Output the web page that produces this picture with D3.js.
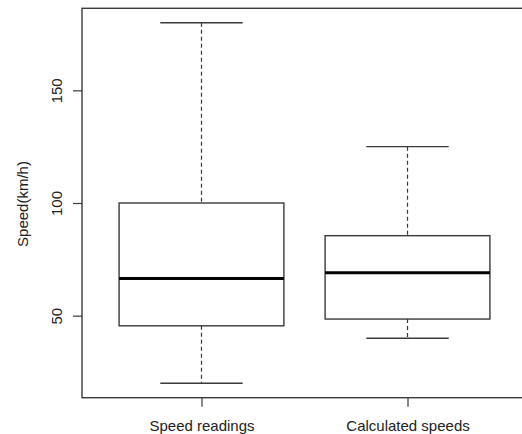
<!DOCTYPE html>
<html>
<head>
<meta charset="utf-8">
<script src="https://cdn.jsdelivr.net/npm/d3@7"></script>
<style>
  body { margin: 0; background: #fff; }
  svg { display: block; font-family: "Liberation Sans", Arial, sans-serif; }
</style>
</head>
<body>
<svg></svg>
<script>
let categories = ["Speed readings", "Calculated speeds"]
let lowWhisker = [20, 40]
let q1 = [45.5, 48.5]
let medians = [66.5, 69]
let q3 = [100, 85.5]
let highWhisker = [180, 125]
let yTicks = [50, 100, 150]

let width = 522
let height = 434
let lineColor = "#3a3a3a"

let svg = d3.select("svg")
  .attr("width", width)
  .attr("height", height)

// R style: positions 1..n, limits padded by 4%
let xScale = d3.scaleLinear()
  .domain([0.42, categories.length + 0.58])
  .range([82, 527])

let yScale = d3.scaleLinear()
  .domain([13.6, 186.4])
  .range([397.7, 8.3])

let boxes = categories.map((c, i) => {
  return {
    name: c,
    pos: i + 1,
    lo: lowWhisker[i],
    q1: q1[i],
    med: medians[i],
    q3: q3[i],
    hi: highWhisker[i]
  }
})

let boxHalf = 0.4
let capHalf = 0.2

let g = svg.selectAll(".box")
  .data(boxes)
  .enter()
  .append("g")
  .attr("class", "box")

// whiskers
g.append("line")
  .attr("x1", d => xScale(d.pos))
  .attr("x2", d => xScale(d.pos))
  .attr("y1", d => yScale(d.hi))
  .attr("y2", d => yScale(d.q3))
  .attr("stroke", lineColor)
  .attr("stroke-width", 1.2)
  .attr("stroke-dasharray", "4,3")

g.append("line")
  .attr("x1", d => xScale(d.pos))
  .attr("x2", d => xScale(d.pos))
  .attr("y1", d => yScale(d.q1))
  .attr("y2", d => yScale(d.lo))
  .attr("stroke", lineColor)
  .attr("stroke-width", 1.2)
  .attr("stroke-dasharray", "4,3")

// caps
g.append("line")
  .attr("x1", d => xScale(d.pos - capHalf))
  .attr("x2", d => xScale(d.pos + capHalf))
  .attr("y1", d => yScale(d.hi))
  .attr("y2", d => yScale(d.hi))
  .attr("stroke", lineColor)
  .attr("stroke-width", 1.4)

g.append("line")
  .attr("x1", d => xScale(d.pos - capHalf))
  .attr("x2", d => xScale(d.pos + capHalf))
  .attr("y1", d => yScale(d.lo))
  .attr("y2", d => yScale(d.lo))
  .attr("stroke", lineColor)
  .attr("stroke-width", 1.4)

// box
g.append("rect")
  .attr("x", d => xScale(d.pos - boxHalf))
  .attr("width", d => xScale(d.pos + boxHalf) - xScale(d.pos - boxHalf))
  .attr("y", d => yScale(d.q3))
  .attr("height", d => yScale(d.q1) - yScale(d.q3))
  .attr("fill", "none")
  .attr("stroke", lineColor)
  .attr("stroke-width", 1.4)

// median
g.append("line")
  .attr("x1", d => xScale(d.pos - boxHalf))
  .attr("x2", d => xScale(d.pos + boxHalf))
  .attr("y1", d => yScale(d.med))
  .attr("y2", d => yScale(d.med))
  .attr("stroke", "#000")
  .attr("stroke-width", 3)

// frame
svg.append("rect")
  .attr("x", xScale.range()[0])
  .attr("y", yScale.range()[1])
  .attr("width", xScale.range()[1] - xScale.range()[0])
  .attr("height", yScale.range()[0] - yScale.range()[1])
  .attr("fill", "none")
  .attr("stroke", lineColor)
  .attr("stroke-width", 1.4)

// y axis
let yAxis = d3.axisLeft(yScale).tickValues(yTicks).tickSize(9)
let yg = svg.append("g")
  .attr("transform", "translate(" + xScale.range()[0] + ",0)")
  .call(yAxis)
yg.select(".domain").remove()
yg.selectAll(".tick line").attr("stroke", lineColor).attr("stroke-width", 1.2)
yg.selectAll(".tick text")
  .attr("transform", "rotate(-90)")
  .attr("x", 0)
  .attr("y", -20)
  .attr("dy", 0)
  .attr("text-anchor", "middle")
  .attr("fill", "#222")
  .style("font-size", "15px")
  .style("font-family", "'Liberation Sans', Arial, sans-serif")

// x axis
let xAxis = d3.axisBottom(xScale)
  .tickValues(boxes.map(d => d.pos))
  .tickFormat((d, i) => categories[i])
  .tickSize(9)
let xg = svg.append("g")
  .attr("transform", "translate(0," + yScale.range()[0] + ")")
  .call(xAxis)
xg.select(".domain").remove()
xg.selectAll(".tick line").attr("stroke", lineColor).attr("stroke-width", 1.2)
xg.selectAll(".tick text")
  .attr("y", 33)
  .attr("dy", 0)
  .attr("fill", "#222")
  .style("font-size", "15px")
  .style("font-family", "'Liberation Sans', Arial, sans-serif")

// y title
svg.append("text")
  .attr("transform", "translate(28,204) rotate(-90)")
  .attr("text-anchor", "middle")
  .attr("fill", "#222")
  .style("font-size", "15px")
  .text("Speed(km/h)")
</script>
</body>
</html>
